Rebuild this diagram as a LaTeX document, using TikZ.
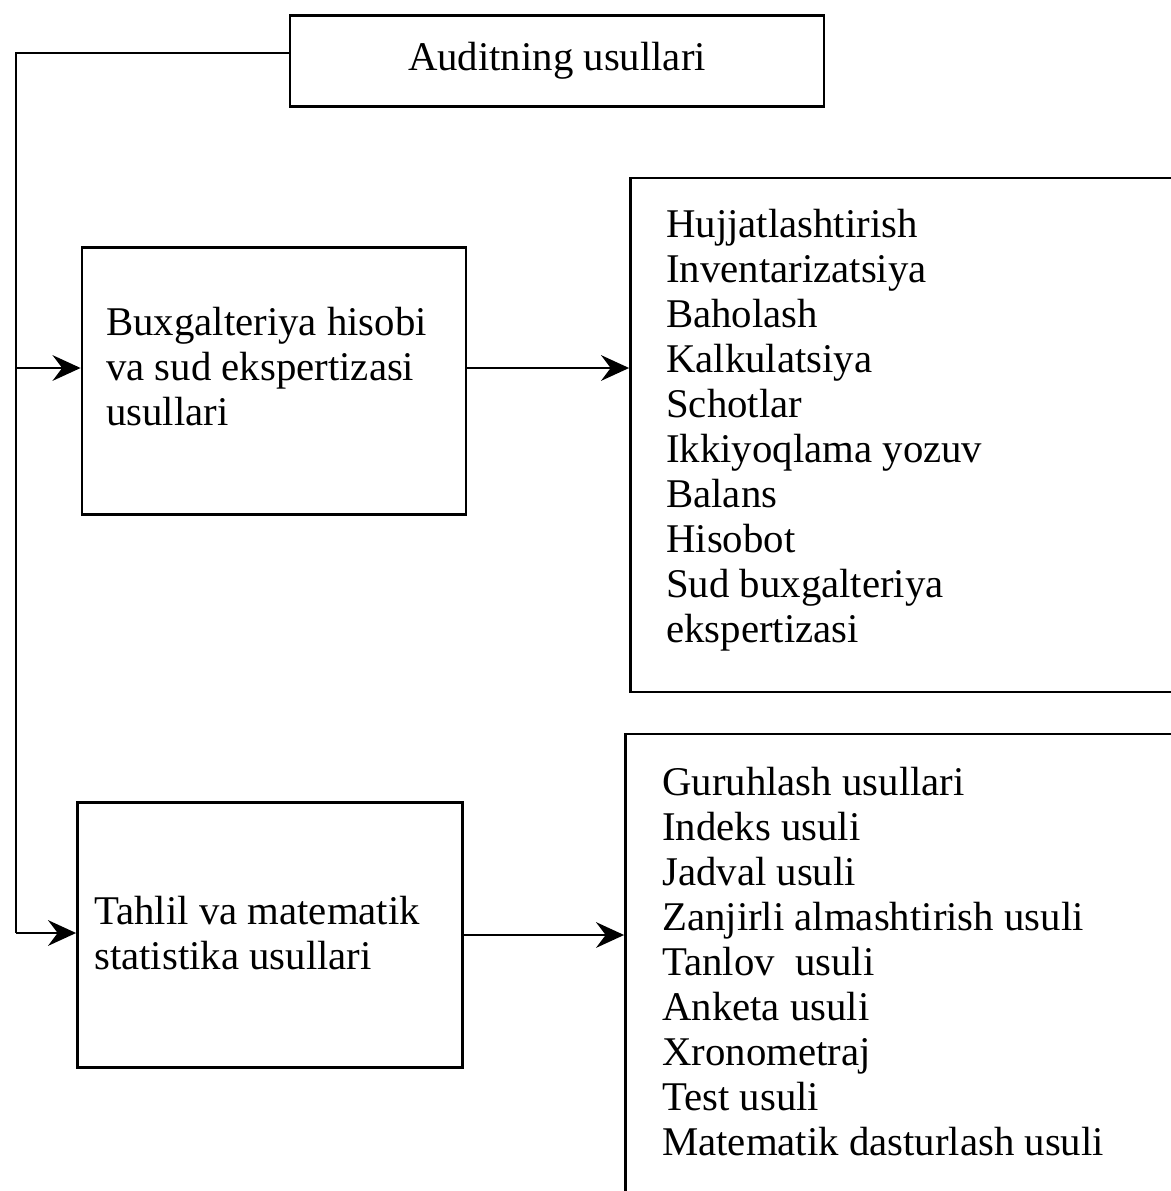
\documentclass[tikz,border=0pt]{standalone}
\usepackage{fontspec}
\setmainfont{Liberation Serif}
\usetikzlibrary{arrows.meta,positioning}

\begin{document}
\begin{tikzpicture}[x=0.025cm, y=-0.025cm,
  box/.style={draw, line width=2pt, inner sep=0pt},
  txt/.style={align=left, inner sep=0pt, font=\fontsize{29}{32}\selectfont},
  link/.style={line width=2pt},
  feeds/.style={-{Stealth[length=7mm, width=6.4mm, inset=2.4mm]}, line width=2pt},
]
\clip (0,0) rectangle (1171,1191);

\node[box, minimum width=534*0.025cm, minimum height=91*0.025cm] (usul) at (557,61) {};
\node[box, minimum width=384*0.025cm, minimum height=267*0.025cm] (buxg) at (274,381) {};
\node[box, minimum width=569*0.025cm, minimum height=514*0.025cm] (buxglist) at (915,435) {};
\node[box, minimum width=385*0.025cm, minimum height=265*0.025cm] (tahlil) at (270,935) {};
\node[box, minimum width=575*0.025cm, minimum height=496*0.025cm] (tahlillist) at (913,982) {};

\node[txt] (usultext) at (usul.center) {Auditning usullari};
\node[txt, anchor=west] (buxgtext) at (106,367) {Buxgalteriya hisobi\\va sud ekspertizasi\\usullari};
\node[txt, anchor=west] (tahliltext) at (94,933) {Tahlil va matematik\\statistika usullari};
\node[txt, anchor=west] (buxglisttext) at (666,430) {Hujjatlashtirish\\Inventarizatsiya\\Baholash\\Kalkulatsiya\\Schotlar\\Ikkiyoqlama yozuv\\Balans\\Hisobot\\Sud buxgalteriya\\ekspertizasi};
\node[txt, anchor=west] (tahlillisttext) at (662,962) {Guruhlash usullari\\Indeks usuli\\Jadval usuli\\Zanjirli almashtirish usuli\\Tanlov\ \ usuli\\Anketa usuli\\Xronometraj\\Test usuli\\Matematik dasturlash usuli};

\coordinate (j0) at (16,53);
\coordinate (j1) at (16,368);
\coordinate (j2) at (16,933);

\draw[link] (j0 -| usul.west) -- (j0) -- (j2);
\draw[feeds] (j1) -- (j1 -| buxg.west);
\draw[feeds] (j2) -- (j2 -| tahlil.west);
\draw[feeds] (j1 -| buxg.east) -- (j1 -| buxglist.west);
\draw[feeds] (tahlil.east) -- (tahlil.east -| tahlillist.west);

\end{tikzpicture}
\end{document}
